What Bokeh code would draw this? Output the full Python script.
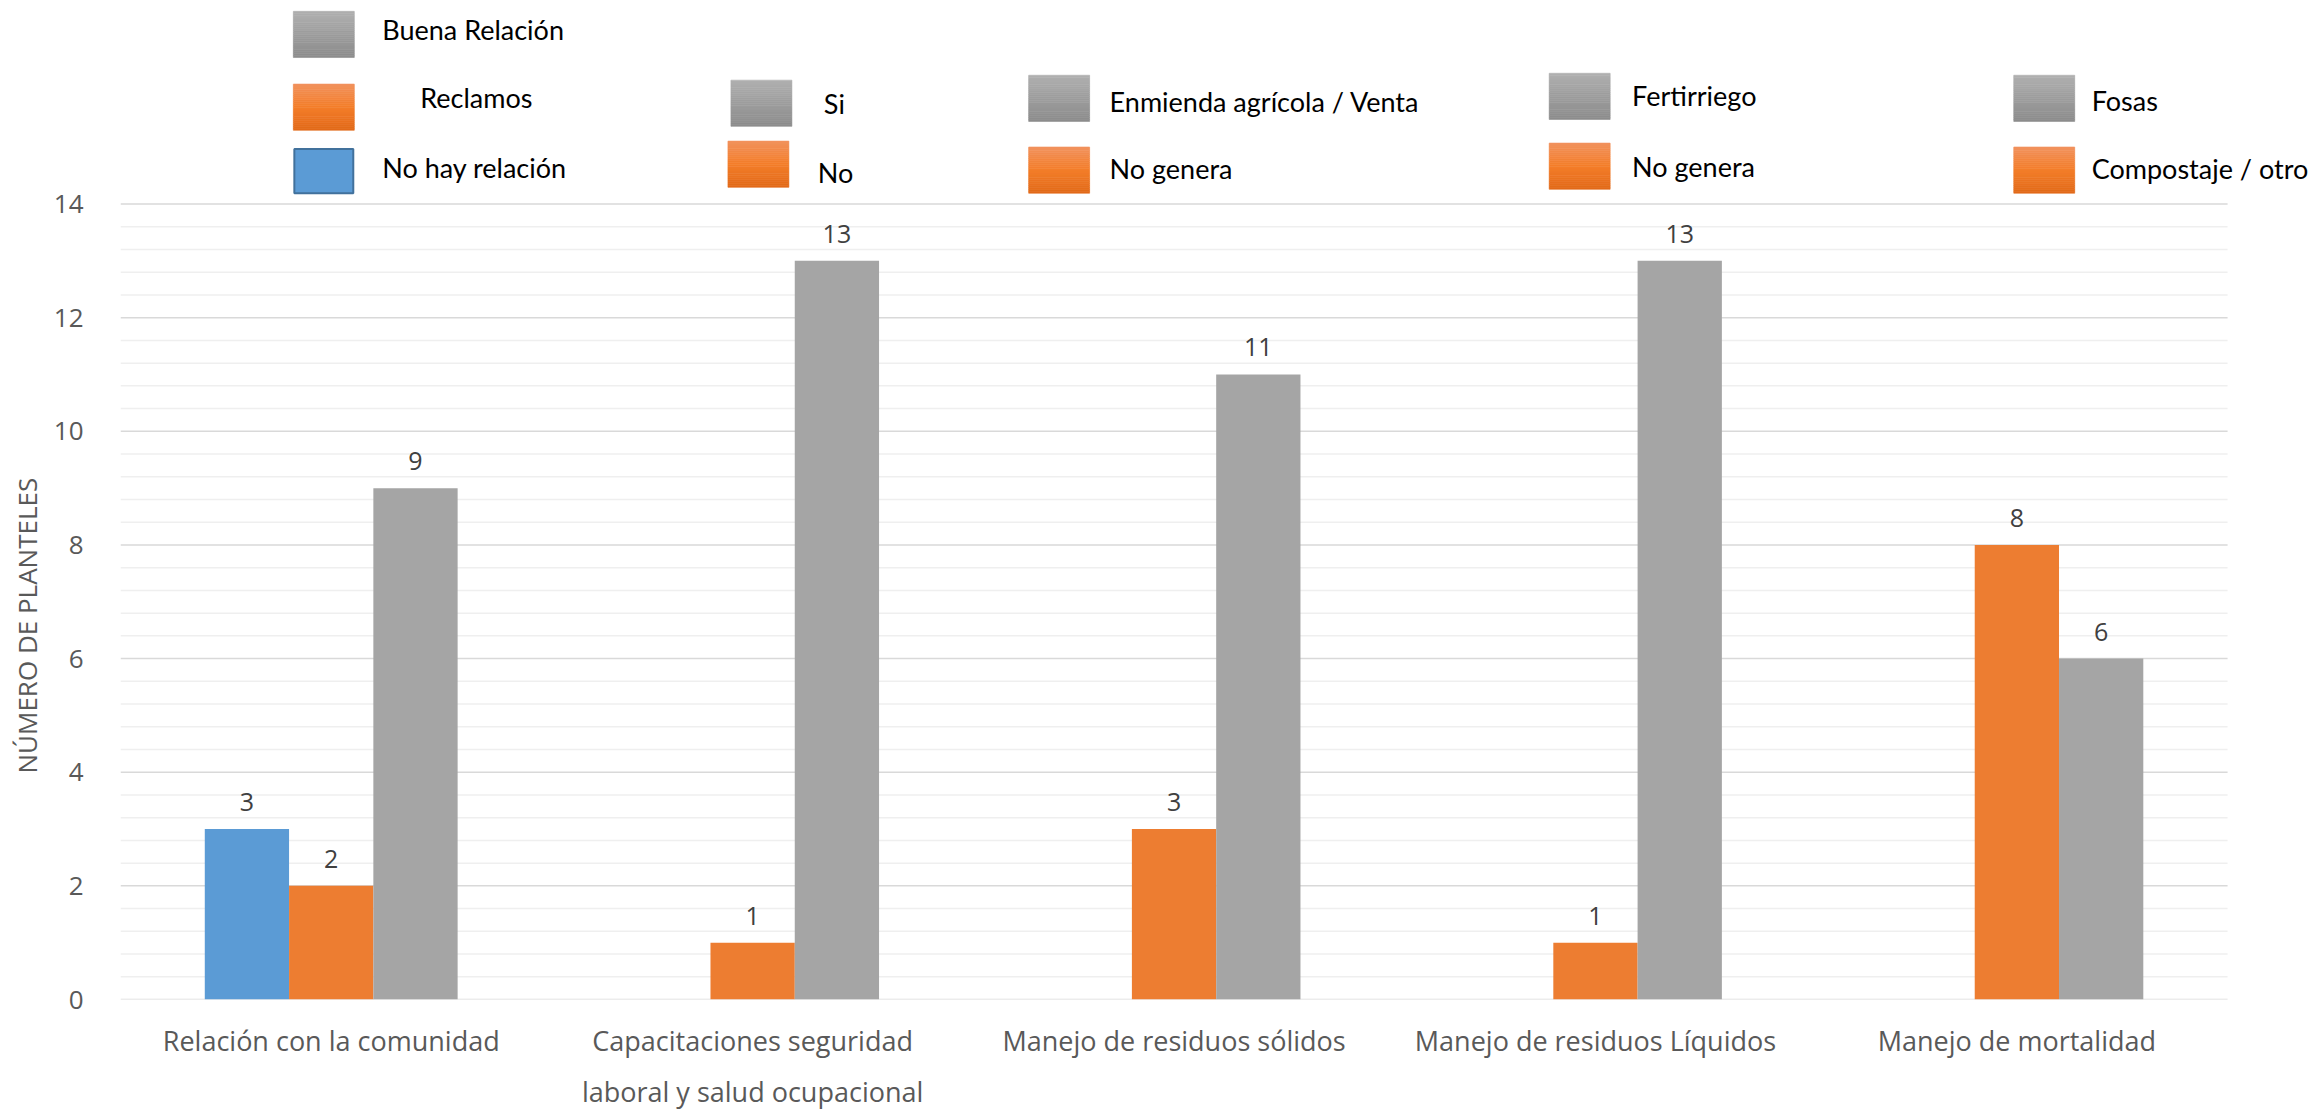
from bokeh.plotting import figure
from bokeh.models import Range1d, ColumnDataSource, FixedTicker, LabelSet, Title
from bokeh.embed import file_html
from bokeh.resources import INLINE
from bokeh.core.properties import value

# ---------------- data ----------------
categories = [
    "Relación con la comunidad",
    "Capacitaciones seguridad\nlaboral y salud ocupacional",
    "Manejo de residuos sólidos",
    "Manejo de residuos Líquidos",
    "Manejo de mortalidad",
]
blue_values = [3, None, None, None, None]
orange_values = [2, 1, 3, 1, 8]
gray_values = [9, 13, 11, 13, 6]
y_major_ticks = [0, 2, 4, 6, 8, 10, 12, 14]
y_axis_title = "NÚMERO DE  PLANTELES"

legend_labels = ["Buena Relación", "Reclamos", "No hay relación",
                 "Si", "No",
                 "Enmienda agrícola / Venta", "No genera",
                 "Fertirriego", "No genera",
                 "Fosas", "Compostaje / otro"]
legend_kinds = ["gray", "orange", "blue", "gray", "orange", "gray", "orange",
                "gray", "orange", "gray", "orange"]

# ---------------- layout / style ----------------
W, H = 2313, 1113
FRAME_L, FRAME_R = 118, 2227          # category area (gridlines) left / right, page px
Y0_PX, Y14_PX = 1016, 207             # page px of value 0 and 14
BOTTOM = H - Y0_PX
FONT = value("Open Sans")
BLUE, ORANGE, GRAY = "#5b9bd5", "#ed7d31", "#a5a5a5"
BAR_W = 0.2
N_CAT = len(categories)
px_per_unit = (Y0_PX - Y14_PX) / 14.0
px_per_cat = (FRAME_R - FRAME_L) / N_CAT


def dx(px):
    return (px - FRAME_L) / px_per_cat


def dy(py):
    return (Y0_PX - py) / px_per_unit


# legend box (left, top) and text (x, center-y) in page pixels
leg_box_pos = [(291, 11), (291, 85), (291, 150), (729, 81), (726, 143),
               (1027, 76), (1027, 149), (1548, 74), (1548, 145),
               (2013, 76), (2013, 149)]
leg_txt_pos = [(380, 29), (418, 99), (380, 170), (822, 105), (816, 175),
               (1108, 103), (1108, 171), (1631, 97), (1631, 169),
               (2091, 102), (2091, 171)]
BOX_W, BOX_H = 61, 47

gradients = {
    "gray": [(0.0, (176, 176, 176)), (1.0, (140, 140, 140))],
    "orange": [(0.0, (241, 146, 94)), (0.5, (244, 126, 42)), (1.0, (226, 105, 24))],
}


def interp(stops, t):
    for (t0, c0), (t1, c1) in zip(stops[:-1], stops[1:]):
        if t0 <= t <= t1:
            f = (t - t0) / (t1 - t0)
            return "#%02x%02x%02x" % tuple(int(round(a + (b - a) * f)) for a, b in zip(c0, c1))
    return "#%02x%02x%02x" % stops[-1][1]


# ---------------- figure ----------------
y_end = dy(0)
x_end = dx(W)
p = figure(x_range=Range1d(0, x_end), y_range=Range1d(0, y_end),
           width=W, height=H, output_backend="svg", toolbar_location=None,
           min_border_left=FRAME_L, min_border_right=0, min_border_top=0,
           min_border_bottom=BOTTOM)
p.outline_line_color = None
p.background_fill_color = "white"
p.xgrid.grid_line_color = None
p.ygrid.grid_line_color = None

# gridlines limited to the category area (Excel style)
minor_y = [m * 0.4 for m in range(0, 36) if m % 5 != 0]
p.segment(x0=[0] * len(minor_y), x1=[N_CAT] * len(minor_y), y0=minor_y, y1=minor_y,
          line_color="#efefef", line_width=1.5, level="underlay")
p.segment(x0=[0] * len(y_major_ticks), x1=[N_CAT] * len(y_major_ticks), y0=y_major_ticks,
          y1=y_major_ticks, line_color="#d9d9d9", line_width=1.5, level="underlay")

# bars + value labels
centers = [i + 0.5 for i in range(N_CAT)]
series = [(blue_values, BLUE, -BAR_W), (orange_values, ORANGE, 0.0), (gray_values, GRAY, BAR_W)]
for vals, color, off in series:
    xs = [c + off for c, v in zip(centers, vals) if v is not None]
    vv = [v for v in vals if v is not None]
    src = ColumnDataSource(dict(x=xs, val=vv, lbl=[str(v) for v in vv]))
    p.vbar(x="x", top="val", width=BAR_W, source=src, fill_color=color, line_color=None)
    p.add_layout(LabelSet(x="x", y="val", text="lbl", source=src,
                          text_align="center", text_baseline="alphabetic", y_offset=18,
                          text_font=FONT, text_font_size="25px", text_color="#404040"))

# legend (custom layout as in the source chart)
ql, qr, qt, qb, qc = [], [], [], [], []
N = 24
for (bx, by), kind in zip(leg_box_pos, legend_kinds):
    if kind == "blue":
        continue
    for i in range(N):
        t0 = by + BOX_H * i / N
        t1 = by + BOX_H * (i + 1) / N
        ql.append(dx(bx)); qr.append(dx(bx + BOX_W)); qt.append(dy(t0)); qb.append(dy(t1))
        qc.append(interp(gradients[kind], (i + 0.5) / N))
p.quad(left=ql, right=qr, top=qt, bottom=qb, fill_color=qc, line_color=qc, line_width=0.6)

bl = [(bx, by) for (bx, by), k in zip(leg_box_pos, legend_kinds) if k == "blue"]
p.quad(left=[dx(b[0] + 1) for b in bl], right=[dx(b[0] + BOX_W - 1) for b in bl],
       top=[dy(b[1] + 1) for b in bl], bottom=[dy(b[1] + BOX_H - 1) for b in bl],
       fill_color=BLUE, line_color="#41719c", line_width=2)

p.text(x=[dx(q[0]) for q in leg_txt_pos], y=[dy(q[1]) for q in leg_txt_pos], text=legend_labels,
       text_baseline="middle", text_align="left", text_font=value("Lato"),
       text_font_size="27px", text_color="#000000")

# axes
p.yaxis.ticker = FixedTicker(ticks=y_major_ticks)
p.yaxis.axis_line_color = None
p.yaxis.major_tick_line_color = None
p.yaxis.minor_tick_line_color = None
p.yaxis.major_label_standoff = 31
p.yaxis.major_label_text_font = "Open Sans"
p.yaxis.major_label_text_font_size = "26px"
p.yaxis.major_label_text_color = "#595959"

ytitle = Title(text=y_axis_title, align="left", offset=Y0_PX - 790, standoff=12,
               text_font="Open Sans", text_font_size="26px", text_font_style="normal",
               text_color="#595959")
p.add_layout(ytitle, "left")

p.xaxis.ticker = FixedTicker(ticks=centers)
p.xaxis.major_label_overrides = {c: name for c, name in zip(centers, categories)}
p.xaxis.axis_line_color = None
p.xaxis.major_tick_line_color = None
p.xaxis.minor_tick_line_color = None
p.xaxis.major_label_standoff = 16
p.xaxis.major_label_text_font = "Open Sans"
p.xaxis.major_label_text_font_size = "27px"
p.xaxis.major_label_text_color = "#595959"
p.xaxis.major_label_text_line_height = 1.4

open("out.html", "w").write(file_html(p, INLINE))
